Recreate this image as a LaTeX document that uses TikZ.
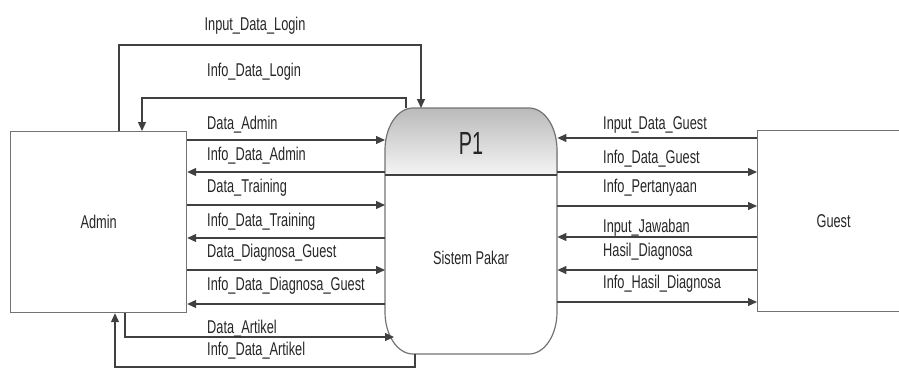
\documentclass[tikz,border=0pt]{standalone}
\usepackage{fontspec}
\setmainfont[FakeStretch=0.69]{Liberation Sans}
\newfontfamily\pfont[FakeStretch=0.62]{Liberation Sans}
\usetikzlibrary{arrows.meta}

\tikzset{
  ent/.style={draw=black!55, line width=1.2pt},
  flow/.style={draw=black!75, line width=1.2pt},
  fwd/.style={-{Triangle[length=9pt,width=8pt]}},
  bwd/.style={{Triangle[length=9pt,width=8pt]}-},
  lbl/.style={anchor=west, inner sep=0pt}
}

\begin{document}
\begin{tikzpicture}[x=1pt,y=-1pt,font=\fontsize{18.5}{18.5}\selectfont,text=black!85]
  \useasboundingbox (0,0) rectangle (899,370);
  \clip (0,0) rectangle (899,370);

  %draw entities
  \node[ent, minimum width=176pt, minimum height=181pt, anchor=north west] (admin) at (10,131) {Admin};
  \node[ent, minimum width=152pt, minimum height=181pt, anchor=north west] (guest) at (757,130) {Guest};

  %draw process
  \node[minimum width=172pt, minimum height=246pt, inner sep=0pt, anchor=north west] (proc) at (385,108) {};
  \fill[top color=black!27, bottom color=black!4] (385,175) -- (385,150)
     arc[start angle=180, end angle=90, x radius=28pt, y radius=42pt] -- (529,108)
     arc[start angle=90, end angle=0, x radius=28pt, y radius=42pt] -- (557,175) -- cycle;
  \draw[ent] (385,150)
     arc[start angle=180, end angle=90, x radius=28pt, y radius=42pt] -- (529,108)
     arc[start angle=90, end angle=0, x radius=28pt, y radius=42pt] -- (557,312)
     arc[start angle=0, end angle=-90, x radius=28pt, y radius=42pt] -- (413,354)
     arc[start angle=270, end angle=180, x radius=28pt, y radius=42pt] -- cycle;
  \draw[flow] (proc.west |- 0,175) -- (proc.east |- 0,175);
  \node (p1) at (471,143) {\pfont\fontsize{32}{32}\selectfont P1};
  \node (pakar) at (471,258) {Sistem Pakar};

  %draw flows admin
  \foreach \y/\ly/\d/\t in {140/125/fwd/Data\_Admin, 172/156/bwd/Info\_Data\_Admin,
      205/188/fwd/Data\_Training, 238/222/bwd/Info\_Data\_Training,
      270/253/fwd/Data\_Diagnosa\_Guest, 304/286/bwd/Info\_Data\_Diagnosa\_Guest}
  {
    \draw[flow,\d] (admin.east |- 0,\y) -- (proc.west |- 0,\y);
    \node[lbl] (la\y) at (207,\ly) {\t};
  }

  %draw flows guest
  \foreach \y/\ly/\d/\t in {138/125/bwd/Input\_Data\_Guest, 172/159/fwd/Info\_Data\_Guest,
      206/188/fwd/Info\_Pertanyaan, 237/228/bwd/Input\_Jawaban,
      270/252/bwd/Hasil\_Diagnosa, 302/284/fwd/Info\_Hasil\_Diagnosa}
  {
    \draw[flow,\d] (proc.east |- 0,\y) -- (guest.west |- 0,\y);
    \node[lbl] (lg\y) at (603,\ly) {\t};
  }

  %draw login loops
  \draw[flow,fwd] (admin.north -| 119,0) -- (119,45) -- (421,45) -- (proc.north -| 421,0);
  \draw[flow,fwd] (proc.north -| 406,0) -- (406,98) -- (142,98) -- (admin.north -| 142,0);
  \node (linlogin) at (255,26) {Input\_Data\_Login};
  \node[lbl] (lnflogin) at (207,72) {Info\_Data\_Login};

  %draw artikel loops
  \draw[flow,fwd] (admin.south -| 125,0) -- (125,337) -- ([xshift=9pt]proc.west |- 0,337);
  \draw[flow,fwd] (proc.south -| 415,0) -- (415,367) -- (115,367) -- (admin.south -| 115,0);
  \node[lbl] (lartikel) at (207,329) {Data\_Artikel};
  \node[lbl] (lnfartikel) at (207,351) {Info\_Data\_Artikel};
\end{tikzpicture}
\end{document}
